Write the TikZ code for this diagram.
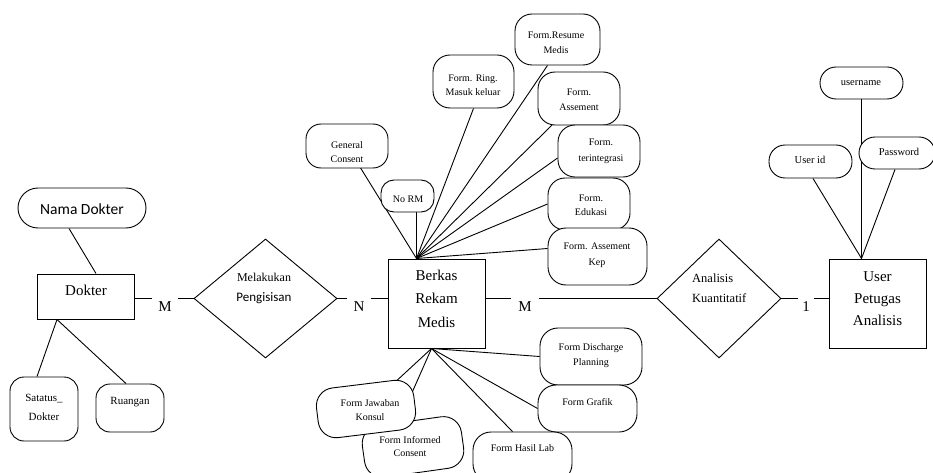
\documentclass[tikz,border=0pt]{standalone}
\usepackage{fontspec}
\setmainfont{Liberation Serif}
\newfontfamily\tms{Liberation Serif}
\newfontfamily\carl{Carlito}
\usetikzlibrary{shapes.geometric}
\pgfdeclarelayer{bg}
\pgfsetlayers{bg,main}
\tikzset{
  sz/.style 2 args={minimum width=#1pt, minimum height=#2pt},
  attr/.style={draw, line width=0.9pt, fill=white, rounded corners=#1, inner sep=0pt},
  attr/.default=16pt,
  ent/.style={draw, line width=1pt, fill=white, inner sep=0pt},
  rel/.style={diamond, draw, line width=0.9pt, fill=white, inner sep=0pt},
  conn/.style={line width=0.9pt},
  txt/.style 2 args={align=center, inner sep=0pt, font=\tms\fontsize{#1}{#2}\selectfont},
  card/.style={inner sep=0pt, font=\tms\fontsize{15}{18}\selectfont},
}
\begin{document}
\begin{tikzpicture}[x=1pt,y=-1pt]
\useasboundingbox (0,0) rectangle (933,473);

% ---------- Dokter side ----------
\node[attr=20pt, sz={128}{40}] (namad) at (82,208) {};
\node[inner sep=0pt, font=\carl\fontsize{15.5}{18}\selectfont] (namadt) at (82,209) {Nama Dokter};
\node[ent, sz={97}{45}] (dokter) at (85.5,296.5) {};
\node[txt={15}{18}] (doktert) at (86,290) {Dokter};
\node[attr=14pt, sz={68}{64}] (satatus) at (44,409) {};
\node[txt={11}{19}] (satatust) at (44,407.5) {Satatus\_\\Dokter};
\node[attr=14pt, sz={68}{48}] (ruangan) at (130,408) {};
\node[txt={11}{14}] (ruangant) at (130,402) {Ruangan};

% ---------- relationship 1 ----------
\node[rel, sz={143}{119}] (rel1) at (265.5,298.5) {};
\node[txt={12}{20}] (rel1t) at (264,288) {Melakukan\\{\carl\fontsize{13}{20}\selectfont Pengisisan}};
\node[card, sz={25}{16}] (m1) at (165,307) {M};
\node[card, sz={23}{16}] (n1) at (359,307) {N};

% ---------- Berkas Rekam Medis ----------
\node[ent, sz={97}{89}] (berkas) at (436.5,303.5) {};
\node[txt={15}{23.5}] (berkast) at (436.5,298.5) {Berkas\\Rekam\\Medis};
\coordinate (tophub) at ([xshift=-20pt]berkas.north);
\coordinate (bothub) at ([xshift=-5pt]berkas.south);

% top attributes
\node[attr=15pt, sz={82}{44}] (gencons) at (347,146) {};
\node[txt={10}{14}] (genconst) at (347,152) {General\\Consent};
\node[attr=13pt, sz={53}{32}] (norm) at (407.5,196) {};
\node[txt={10}{14}] (normt) at (408,199) {No RM};
\node[attr=17pt, sz={81}{53}] (ring) at (473.5,81.5) {};
\node[txt={10}{14}] (ringt) at (473,85) {Form. Ring.\\Masuk keluar};
\node[attr=17pt, sz={85}{51}] (resume) at (557.5,39.5) {};
\node[txt={10}{15}] (resumet) at (556,42.5) {Form.Resume\\Medis};
\node[attr=17pt, sz={82}{53}] (assement) at (579,98.5) {};
\node[txt={10}{15}] (assementt) at (579,99.5) {Form.\\Assement};
\node[attr=17pt, sz={82}{52}] (terint) at (599,151) {};
\node[txt={10}{16}] (terintt) at (601,151) {Form.\\terintegrasi};
\node[attr=17pt, sz={82}{52}] (edukasi) at (589,204) {};
\node[txt={10}{14}] (edukasit) at (591,205) {Form.\\Edukasi};
\node[attr=18pt, sz={99}{57}] (askep) at (597.5,256.5) {};
\node[txt={10}{16}] (askept) at (597,255) {Form. Assement\\Kep};

% bottom attributes
\node[attr=18pt, sz={102}{57}] (discharge) at (591,356.5) {};
\node[txt={10}{15}] (discharget) at (591,355.5) {Form Discharge\\Planning};
\node[attr=18pt, sz={99}{47}] (grafik) at (587.5,408.5) {};
\node[txt={10}{14}] (grafikt) at (587.5,402) {Form Grafik};
\node[attr=18pt, sz={99}{50}] (hasillab) at (522.5,457) {};
\node[txt={10}{14}] (hasillabt) at (522.5,448) {Form Hasil Lab};
\node[attr=18pt, sz={100}{52}, rotate=8] (informed) at (413,447) {};
\begin{scope}
  \clip (350,425) rectangle (470,457);
  \node[txt={10}{13}] (informedt) at (410,446.5) {Form Informed\\Consent};
\end{scope}
\node[attr=18pt, sz={98}{50}, rotate=7] (jawaban) at (366,409) {};
\begin{scope}
  \clip (315,390) rectangle (420,421);
  \node[txt={10}{14}] (jawabant) at (370,410) {Form Jawaban\\Konsul};
\end{scope}

% ---------- relationship 2 ----------
\node[rel, sz={124}{119}] (rel2) at (719,298.5) {};
\node[txt={12.5}{20}, align=left, anchor=west] (rel2t) at (692,288) {Analisis\\Kuantitatif};
\node[card, sz={28}{16}] (m2) at (525,307) {M};
\node[card, sz={16}{16}] (one) at (806,307) {1};

% ---------- User Petugas Analisis ----------
\node[ent, sz={97}{89}] (user) at (877.5,303.5) {};
\node[txt={15}{22}] (usert) at (877.5,298.5) {User\\Petugas\\Analisis};
\node[attr=16pt, sz={83}{32}] (username) at (861.5,83) {};
\node[txt={10.5}{14}] (usernamet) at (861,83) {username};
\node[attr=16pt, sz={83}{33}] (userid) at (810.5,161.5) {};
\node[txt={10.5}{14}] (useridt) at (810,160) {User id};
\node[attr=16pt, sz={76}{32}] (password) at (897,153) {};
\node[txt={10.5}{14}] (passwordt) at (899,152) {Password};
\coordinate (userhub) at (username.south |- user.north);

% ---------- connectors ----------
\begin{pgfonlayer}{bg}
  \draw[conn] ([xshift=-13pt]namad.south) -- ([xshift=10.5pt]dokter.north);
  \draw[conn] ([xshift=-28.5pt]dokter.south) -- ([xshift=-7pt]satatus.north);
  \draw[conn] ([xshift=-28.5pt]dokter.south) -- ([xshift=-4pt]ruangan.north);
  \draw[conn] (rel1.west -| dokter.east) -- (rel1.west -| m1.west);
  \draw[conn] (rel1.west -| m1.east) -- (rel1.west);
  \draw[conn] (rel1.east) -- (rel1.east -| n1.west);
  \draw[conn] (rel1.east -| n1.east) -- (rel1.east -| berkas.west);
  \draw[conn] (rel2.west -| berkas.east) -- (rel2.west -| m2.west);
  \draw[conn] (rel2.west -| m2.east) -- (rel2.west);
  \draw[conn] (rel2.east) -- (rel2.east -| one.west);
  \draw[conn] (rel2.east -| one.east) -- (rel2.east -| user.west);
  % top fan
  \draw[conn] (tophub) -- (gencons.center);
  \draw[conn] (tophub) -- (tophub |- norm.south);
  \draw[conn] (tophub) -- (ring.south);
  \draw[conn] (tophub) -- ([xshift=-10pt]resume.south);
  \draw[conn] (tophub) -- (assement.center);
  \draw[conn] (tophub) -- ([yshift=-7pt]terint.west);
  \draw[conn] (tophub) -- (edukasi.west);
  \draw[conn] (tophub) -- ([yshift=8pt]askep.west);
  % bottom fan
  \draw[conn] (bothub) -- (discharge.west);
  \draw[conn] (bothub) -- (grafik.west);
  \draw[conn] (bothub) -- ([xshift=-10pt]hasillab.north);
  \draw[conn] (bothub) -- (jawaban.center);
  \draw[conn] (bothub) -- ([xshift=-25pt]informed.center);
  % user attributes
  \draw[conn] (username.south) -- (userhub);
  \draw[conn] ([xshift=2.5pt]userid.south) -- (userhub);
  \draw[conn] ([xshift=-2pt]password.south) -- (userhub);
\end{pgfonlayer}
\end{tikzpicture}
\end{document}
